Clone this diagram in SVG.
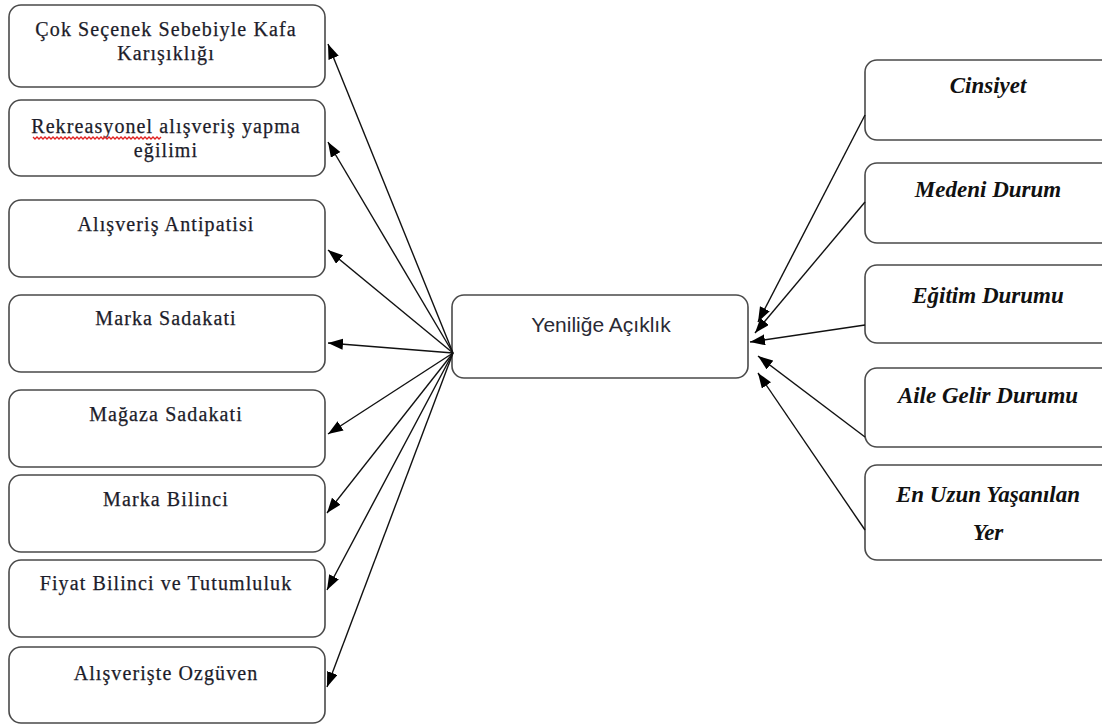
<svg xmlns="http://www.w3.org/2000/svg" width="1102" height="727" viewBox="0 0 1102 727">
<style>
.box{fill:#fff;stroke:#4a4a4a;stroke-width:1.6}
.lt{font-family:"Liberation Serif",serif;font-size:20px;letter-spacing:1.1px;fill:#1c1c2a;stroke:#1c1c2a;stroke-width:0.25;text-anchor:middle}
.rt{font-family:"Liberation Serif",serif;font-size:23px;font-weight:bold;font-style:italic;fill:#111;text-anchor:middle}
.ct{font-family:"Liberation Sans",Arial,sans-serif;font-size:21px;fill:#2a2a35;text-anchor:middle}
.ln{stroke:#111;stroke-width:1.4;fill:none;marker-end:url(#ah)}
</style>
<defs>
<marker id="ah" markerWidth="16" markerHeight="12" refX="15" refY="5.5" orient="auto" markerUnits="userSpaceOnUse">
<path d="M0,0 L15,5.5 L0,11 z" fill="#000"/>
</marker>
</defs>
<rect width="1102" height="727" fill="#fff"/>
<g id="n1"><rect class="box" x="9" y="5" width="316" height="82" rx="12"/><text class="lt" x="166" y="36">Çok Seçenek Sebebiyle Kafa</text><text class="lt" x="166" y="60">Karışıklığı</text></g>
<g id="n2"><rect class="box" x="9" y="100" width="316" height="76" rx="12"/><text class="lt" x="166" y="133">Rekreasyonel alışveriş yapma</text><text class="lt" x="166" y="157">eğilimi</text><path d="M33,137 l2,2 l2,-2 l2,2 l2,-2 l2,2 l2,-2 l2,2 l2,-2 l2,2 l2,-2 l2,2 l2,-2 l2,2 l2,-2 l2,2 l2,-2 l2,2 l2,-2 l2,2 l2,-2 l2,2 l2,-2 l2,2 l2,-2 l2,2 l2,-2 l2,2 l2,-2 l2,2 l2,-2 l2,2 l2,-2 l2,2 l2,-2 l2,2 l2,-2 l2,2 l2,-2 l2,2 l2,-2 l2,2 l2,-2 l2,2 l2,-2 l2,2 l2,-2 l2,2 l2,-2 l2,2 l2,-2 l2,2 l2,-2 l2,2 l2,-2 l2,2 l2,-2 l2,2 l2,-2 l2,2 l2,-2 l2,2 l2,-2 l2,2 l2,-2" fill="none" stroke="#e02020" stroke-width="1.3"/></g>
<g id="n3"><rect class="box" x="9" y="200" width="316" height="77" rx="12"/><text class="lt" x="166" y="231">Alışveriş Antipatisi</text></g>
<g id="n4"><rect class="box" x="9" y="295" width="316" height="77" rx="12"/><text class="lt" x="166" y="325">Marka Sadakati</text></g>
<g id="n5"><rect class="box" x="9" y="390" width="316" height="77" rx="12"/><text class="lt" x="166" y="421">Mağaza Sadakati</text></g>
<g id="n6"><rect class="box" x="9" y="475" width="316" height="77" rx="12"/><text class="lt" x="166" y="506">Marka Bilinci</text></g>
<g id="n7"><rect class="box" x="9" y="560" width="316" height="77" rx="12"/><text class="lt" x="166" y="590">Fiyat Bilinci ve Tutumluluk</text></g>
<g id="n8"><rect class="box" x="9" y="647" width="316" height="76" rx="12"/><text class="lt" x="166" y="680">Alışverişte Ozgüven</text></g>
<g id="center"><rect class="box" x="452" y="295" width="296" height="83" rx="12"/><text class="ct" x="601" y="332">Yeniliğe Açıklık</text></g>
<g id="r1"><rect class="box" x="865" y="60" width="250" height="80" rx="12"/><text class="rt" x="988" y="93">Cinsiyet</text></g>
<g id="r2"><rect class="box" x="865" y="163" width="250" height="80" rx="12"/><text class="rt" x="988" y="197">Medeni Durum</text></g>
<g id="r3"><rect class="box" x="865" y="265" width="250" height="78" rx="12"/><text class="rt" x="988" y="303">Eğitim Durumu</text></g>
<g id="r4"><rect class="box" x="865" y="368" width="250" height="79" rx="12"/><text class="rt" x="988" y="403">Aile Gelir Durumu</text></g>
<g id="r5"><rect class="box" x="865" y="465" width="250" height="95" rx="12"/><text class="rt" x="988" y="502">En Uzun Yaşanılan</text><text class="rt" x="988" y="540">Yer</text></g>
<g id="connectors">
<line class="ln" x1="453" y1="353" x2="328" y2="44"/>
<line class="ln" x1="453" y1="353" x2="328" y2="142"/>
<line class="ln" x1="453" y1="353" x2="328" y2="250"/>
<line class="ln" x1="453" y1="353" x2="328" y2="343"/>
<line class="ln" x1="453" y1="353" x2="328" y2="434"/>
<line class="ln" x1="453" y1="353" x2="327" y2="513"/>
<line class="ln" x1="453" y1="353" x2="327" y2="590"/>
<line class="ln" x1="453" y1="353" x2="327" y2="687"/>
<line class="ln" x1="865" y1="115" x2="758" y2="322"/>
<line class="ln" x1="865" y1="202" x2="755" y2="333"/>
<line class="ln" x1="865" y1="325" x2="750" y2="342"/>
<line class="ln" x1="865" y1="437" x2="758" y2="356"/>
<line class="ln" x1="865" y1="530" x2="758" y2="373"/>
</g>
</svg>
